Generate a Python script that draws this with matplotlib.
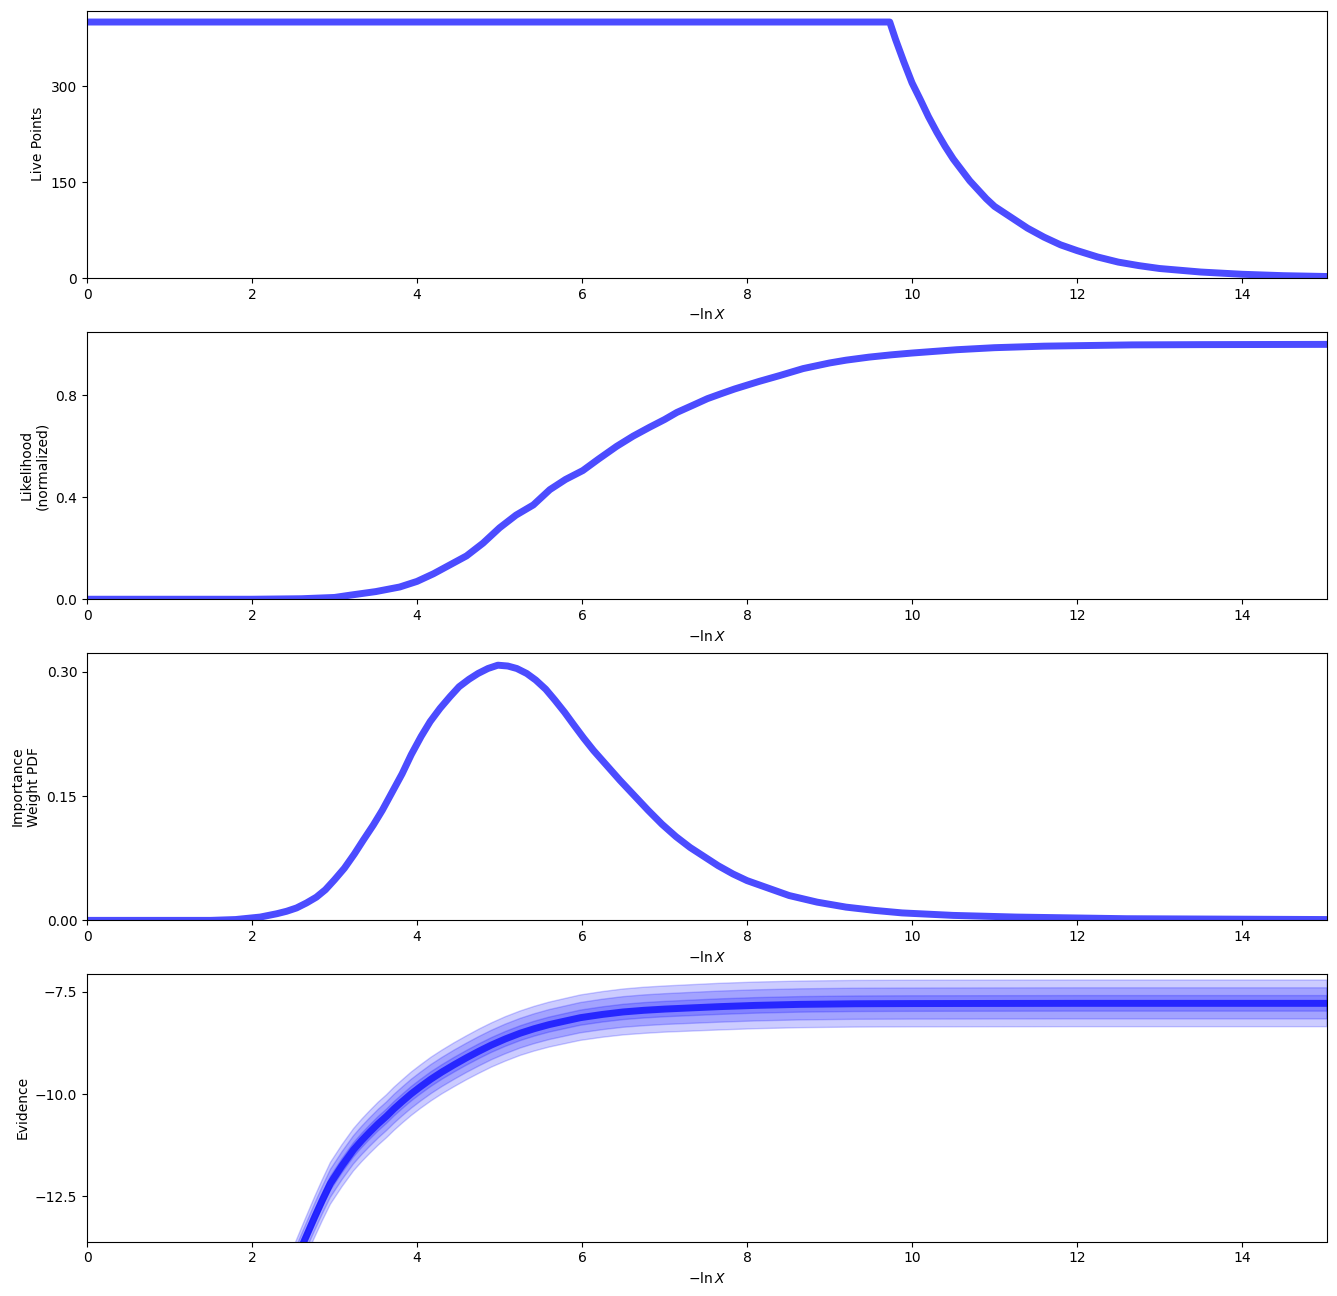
import numpy as np
import matplotlib
matplotlib.use("Agg")
import matplotlib.pyplot as plt

# -ln X range of the run
x_max = 15.03

# Live points
nlive_x = [0.0, 9.73, 9.8, 9.9, 10.0, 10.1, 10.2, 10.3, 10.4, 10.5,
           10.6, 10.7, 10.8, 10.9, 11.0, 11.2, 11.4, 11.6, 11.8, 12.0,
           12.25, 12.5, 12.75, 13.0, 13.5, 14.0, 14.5, 15.03]
nlive = [400, 400, 373, 338, 305, 279, 252, 228, 206, 186,
         169, 152, 138, 124, 112, 95, 78, 64, 52, 43,
         33, 25, 19.5, 15, 9.5, 6, 3.8, 2.5]

# Normalized likelihood
like_x = [0.0, 2.0, 2.6, 3.0, 3.19, 3.5, 3.79, 4.0, 4.2, 4.4,
          4.6, 4.8, 5.0, 5.2, 5.41, 5.61, 5.8, 6.01, 6.2, 6.42,
          6.62, 6.82, 7.0, 7.15, 7.35, 7.52, 7.7, 7.85, 8.0, 8.15,
          8.4, 8.68, 9.0, 9.2, 9.48, 9.75, 10.0, 10.54, 11.0, 11.6,
          12.67, 13.5, 15.03]
like = [0.0, 0.0, 0.002, 0.007, 0.016, 0.03, 0.048, 0.07, 0.10, 0.135,
        0.17, 0.22, 0.28, 0.33, 0.37, 0.43, 0.47, 0.505, 0.55, 0.60,
        0.64, 0.675, 0.705, 0.733, 0.762, 0.787, 0.808, 0.825, 0.84, 0.855,
        0.878, 0.905, 0.927, 0.938, 0.950, 0.959, 0.966, 0.979, 0.987, 0.993,
        0.998, 0.999, 1.0]

# Importance weight PDF
wt_x = [0.0, 1.5, 1.8, 2.0, 2.1, 2.2, 2.3, 2.42, 2.54, 2.66,
        2.78, 2.89, 3.0, 3.12, 3.24, 3.35, 3.47, 3.58, 3.7, 3.82,
        3.93, 4.05, 4.16, 4.28, 4.4, 4.51, 4.63, 4.74, 4.86, 4.98,
        5.1, 5.21, 5.33, 5.44, 5.56, 5.67, 5.79, 5.9, 6.02, 6.14,
        6.3, 6.46, 6.63, 6.8, 6.97, 7.14, 7.31, 7.48, 7.65, 7.83,
        8.0, 8.17, 8.34, 8.51, 8.68, 8.85, 9.2, 9.55, 9.88, 10.5,
        11.26, 12.6, 15.03]
wt = [0.0, 0.0, 0.001, 0.003, 0.004, 0.006, 0.008, 0.011, 0.015, 0.021,
      0.028, 0.037, 0.049, 0.063, 0.080, 0.097, 0.115, 0.133, 0.155, 0.177,
      0.200, 0.222, 0.240, 0.256, 0.270, 0.282, 0.291, 0.298, 0.304, 0.308,
      0.307, 0.304, 0.298, 0.290, 0.279, 0.266, 0.251, 0.236, 0.220, 0.205,
      0.187, 0.169, 0.151, 0.133, 0.116, 0.101, 0.088, 0.077, 0.066, 0.056,
      0.048, 0.042, 0.036, 0.030, 0.026, 0.022, 0.016, 0.012, 0.009, 0.006,
      0.004, 0.002, 0.001]

# Evidence (log Z) and its error
logz_x = [0.0, 1.5, 2.0, 2.3, 2.5, 2.63, 2.76, 2.85, 2.95, 3.09,
          3.23, 3.33, 3.43, 3.53, 3.63, 3.72, 3.82, 3.93, 4.04, 4.17,
          4.3, 4.45, 4.6, 4.75, 4.9, 5.07, 5.25, 5.42, 5.6, 5.8,
          5.98, 6.25, 6.5, 6.75, 7.0, 7.33, 7.67, 8.1, 8.64, 9.3,
          10.0, 12.0, 15.03]
logz = [-40.0, -19.0, -17.0, -15.4, -14.2, -13.6, -13.0, -12.6, -12.18, -11.75,
        -11.36, -11.13, -10.92, -10.72, -10.54, -10.36, -10.18, -9.99, -9.82, -9.63,
        -9.46, -9.28, -9.11, -8.95, -8.8, -8.65, -8.51, -8.40, -8.3, -8.21,
        -8.13, -8.05, -7.99, -7.95, -7.92, -7.89, -7.86, -7.83, -7.805, -7.79,
        -7.785, -7.78, -7.78]
logzerr = [0.0, 0.08, 0.12, 0.14, 0.15, 0.16, 0.165, 0.167, 0.17, 0.171,
           0.172, 0.173, 0.174, 0.175, 0.175, 0.176, 0.176, 0.177, 0.177, 0.178,
           0.178, 0.179, 0.179, 0.18, 0.18, 0.181, 0.181, 0.182, 0.183, 0.184,
           0.185, 0.186, 0.187, 0.188, 0.188, 0.189, 0.19, 0.19, 0.19, 0.19,
           0.19, 0.19, 0.19]

color = "blue"
line_kw = dict(color=color, linewidth=5, alpha=0.7)
xlabel = r"$-\ln X$"

fig, axes = plt.subplots(4, 1, figsize=(13.37, 12.96), dpi=100)
fig.subplots_adjust(left=87 / 1337, right=1327 / 1337, top=1 - 10.5 / 1296,
                    bottom=1 - 1241.5 / 1296, hspace=0.2)

# live points
ax = axes[0]
ax.plot(nlive_x, nlive, **line_kw)
ax.set_ylim(0, 418)
ax.set_yticks([0, 150, 300])
ax.set_ylabel("Live Points")

# likelihood
ax = axes[1]
ax.plot(like_x, like, **line_kw)
ax.set_ylim(0, 1.05)
ax.set_yticks([0.0, 0.4, 0.8])
ax.set_ylabel("Likelihood\n(normalized)")

# importance weights
ax = axes[2]
ax.plot(wt_x, wt, **line_kw)
ax.set_ylim(0, 0.323)
ax.set_yticks([0.0, 0.15, 0.30])
ax.set_ylabel("Importance\nWeight PDF")

# evidence with 1, 2, 3 sigma bands
ax = axes[3]
lz = np.array(logz)
lze = np.array(logzerr)
for s in [3, 2, 1]:
    ax.fill_between(logz_x, lz + s * lze, lz - s * lze, color=color, alpha=0.2)
ax.plot(logz_x, lz, **line_kw)
ax.set_ylim(-13.6, -7.06)
ax.set_yticks([-12.5, -10.0, -7.5])
ax.set_ylabel("Evidence")

for ax in axes:
    ax.set_xlim(0, x_max)
    ax.set_xlabel(xlabel)

plt.savefig("out.png", dpi=100)
